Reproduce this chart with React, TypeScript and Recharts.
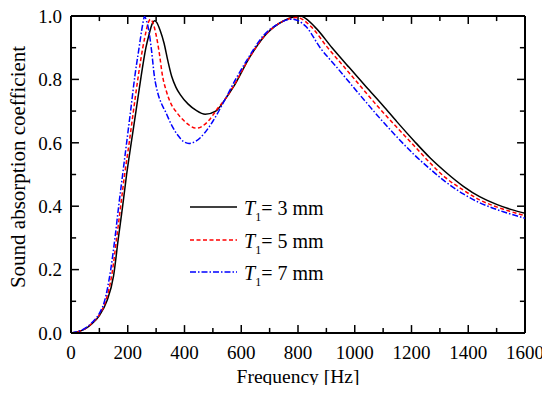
import React from 'react';
import { LineChart, Line, XAxis, YAxis, ReferenceLine } from 'recharts';

// Series: T1 = 3 mm (black, solid)
const freqT3 = [0, 25, 50, 75, 100, 126, 150, 167, 182, 196, 212, 229, 247, 264, 276, 286, 294, 302, 314, 328, 341, 355, 370, 385, 413, 440, 473, 510, 543, 573, 631, 690, 750, 808, 860, 920, 980, 1040, 1100, 1149, 1210, 1266, 1320, 1384, 1440, 1502, 1550, 1600];
const alphaT3 = [0, 0.004, 0.013, 0.03, 0.055, 0.1, 0.18, 0.3, 0.4, 0.5, 0.598, 0.7, 0.809, 0.9, 0.945, 0.975, 0.985, 0.98, 0.955, 0.914, 0.86, 0.809, 0.775, 0.752, 0.722, 0.703, 0.69, 0.7, 0.737, 0.777, 0.872, 0.945, 0.985, 1.0, 0.965, 0.9, 0.838, 0.777, 0.717, 0.666, 0.605, 0.552, 0.508, 0.462, 0.43, 0.405, 0.39, 0.378];

// Series: T1 = 5 mm (red, dashed)
const freqT5 = [0, 25, 50, 75, 100, 122, 145, 161, 175, 189, 205, 220, 237, 253, 263, 272, 280, 290, 300, 310, 323, 337, 350, 373, 400, 443, 480, 520, 543, 580, 620, 680, 740, 796, 850, 900, 960, 1017, 1080, 1149, 1210, 1266, 1320, 1384, 1440, 1502, 1550, 1600];
const alphaT5 = [0, 0.004, 0.014, 0.032, 0.058, 0.1, 0.19, 0.3, 0.4, 0.5, 0.6, 0.7, 0.81, 0.9, 0.945, 0.978, 0.99, 0.975, 0.94, 0.89, 0.809, 0.76, 0.728, 0.695, 0.668, 0.646, 0.665, 0.712, 0.737, 0.79, 0.855, 0.935, 0.98, 0.995, 0.963, 0.905, 0.842, 0.782, 0.716, 0.648, 0.59, 0.536, 0.49, 0.45, 0.42, 0.397, 0.383, 0.37];

// Series: T1 = 7 mm (blue, dash-dot)
const freqT7 = [0, 25, 50, 75, 100, 118, 140, 155, 168, 182, 196, 210, 225, 240, 252, 259, 266, 274, 284, 294, 305, 318, 332, 355, 378, 395, 416, 440, 470, 500, 543, 580, 620, 680, 730, 778, 830, 878, 935, 990, 1040, 1090, 1149, 1210, 1266, 1320, 1384, 1440, 1502, 1550, 1600];
const alphaT7 = [0, 0.005, 0.015, 0.034, 0.062, 0.1, 0.2, 0.3, 0.4, 0.5, 0.6, 0.7, 0.81, 0.9, 0.97, 0.998, 0.985, 0.955, 0.89, 0.809, 0.76, 0.725, 0.7, 0.655, 0.622, 0.605, 0.598, 0.605, 0.63, 0.668, 0.737, 0.8, 0.861, 0.94, 0.975, 0.99, 0.965, 0.9, 0.84, 0.781, 0.728, 0.676, 0.618, 0.562, 0.517, 0.477, 0.438, 0.411, 0.389, 0.375, 0.362];

const xMajorTicks = [0, 200, 400, 600, 800, 1000, 1200, 1400, 1600];
const xMinorTicks = [100, 300, 500, 700, 900, 1100, 1300, 1500];
const yMajorTicks = [0, 0.2, 0.4, 0.6, 0.8, 1.0];
const yMinorTicks = [0.1, 0.3, 0.5, 0.7, 0.9];

const legendValues = ['3 mm', '5 mm', '7 mm'];
const colors = ['#000000', '#ff0000', '#0000ff'];
const dashes = [undefined, '4 2.5', '6 2 1.5 2'];

const FONT = '"Liberation Serif", "Times New Roman", serif';

const X_MIN = 0;
const X_MAX = 1600;
const Y_MIN = 0;
const Y_MAX = 1;

const toData = (f: number[], v: number[]) => f.map((x, i) => ({ f: x, a: v[i] }));

const dataT3 = toData(freqT3, alphaT3);
const dataT5 = toData(freqT5, alphaT5);
const dataT7 = toData(freqT7, alphaT7);

const tickStyle = { fontFamily: FONT, fontSize: 19, fill: '#000' };
const axisLineStyle = { stroke: '#000', strokeWidth: 2 };

// inward tick lengths, expressed in axis units (≈8 px major, ≈5 px minor)
const xMajLen = 0.025;
const xMinLen = 0.016;
const yMajLen = 28;
const yMinLen = 18;

type Seg = [{ x: number; y: number }, { x: number; y: number }];

const tickSegments: { seg: Seg; key: string }[] = [
  ...xMajorTicks.flatMap((t) => [
    { key: `xb${t}`, seg: [{ x: t, y: Y_MIN }, { x: t, y: Y_MIN + xMajLen }] as Seg },
    { key: `xt${t}`, seg: [{ x: t, y: Y_MAX }, { x: t, y: Y_MAX - xMajLen }] as Seg },
  ]),
  ...xMinorTicks.flatMap((t) => [
    { key: `xbm${t}`, seg: [{ x: t, y: Y_MIN }, { x: t, y: Y_MIN + xMinLen }] as Seg },
    { key: `xtm${t}`, seg: [{ x: t, y: Y_MAX }, { x: t, y: Y_MAX - xMinLen }] as Seg },
  ]),
  ...yMajorTicks.flatMap((t) => [
    { key: `yl${t}`, seg: [{ x: X_MIN, y: t }, { x: X_MIN + yMajLen, y: t }] as Seg },
    { key: `yr${t}`, seg: [{ x: X_MAX, y: t }, { x: X_MAX - yMajLen, y: t }] as Seg },
  ]),
  ...yMinorTicks.flatMap((t) => [
    { key: `ylm${t}`, seg: [{ x: X_MIN, y: t }, { x: X_MIN + yMinLen, y: t }] as Seg },
    { key: `yrm${t}`, seg: [{ x: X_MAX, y: t }, { x: X_MAX - yMinLen, y: t }] as Seg },
  ]),
];

export default function App() {
  const rows = [207, 240, 272];
  return (
    <div style={{ position: 'relative', width: 550, height: 393, margin: -8, background: '#fff' }}>
      <LineChart width={550} height={393} margin={{ top: 16, right: 25, bottom: 0, left: 0 }}>
        <XAxis
          xAxisId="b"
          dataKey="f"
          type="number"
          domain={[X_MIN, X_MAX]}
          allowDataOverflow
          ticks={xMajorTicks}
          interval={0}
          height={60}
          tickSize={0}
          tickMargin={13}
          tick={tickStyle}
          axisLine={axisLineStyle}
          tickLine={false}
          label={{
            content: () => (
              <text x={298} y={383} textAnchor="middle" style={{ fontFamily: FONT, fontSize: 19.5, fill: '#000' }}>
                Frequency [Hz]
              </text>
            ),
          }}
        />
        <YAxis
          yAxisId="l"
          type="number"
          domain={[Y_MIN, Y_MAX]}
          allowDataOverflow
          ticks={yMajorTicks}
          interval={0}
          width={71}
          tickSize={0}
          tickMargin={9}
          tick={tickStyle}
          tickFormatter={(v: number) => v.toFixed(1)}
          axisLine={axisLineStyle}
          tickLine={false}
          label={{
            content: () => (
              <text
                x={25}
                y={167}
                transform="rotate(-90 25 167)"
                textAnchor="middle"
                style={{ fontFamily: FONT, fontSize: 21, fill: '#000' }}
              >
                Sound absorption coefficient
              </text>
            ),
          }}
        />

        {/* frame: top and right borders */}
        <ReferenceLine xAxisId="b" yAxisId="l" y={Y_MAX} stroke="#000" strokeWidth={2} ifOverflow="visible" />
        <ReferenceLine xAxisId="b" yAxisId="l" x={X_MAX} stroke="#000" strokeWidth={2} ifOverflow="visible" />

        {/* inward major/minor ticks on all four sides */}
        {tickSegments.map(({ key, seg }) => (
          <ReferenceLine key={key} xAxisId="b" yAxisId="l" segment={seg} stroke="#000" strokeWidth={1.5} ifOverflow="visible" />
        ))}

        <Line xAxisId="b" yAxisId="l" data={dataT3} dataKey="a" type="monotone" stroke={colors[0]} strokeWidth={1.5} dot={false} isAnimationActive={false} />
        <Line xAxisId="b" yAxisId="l" data={dataT5} dataKey="a" type="monotone" stroke={colors[1]} strokeWidth={1.5} strokeDasharray={dashes[1]} dot={false} isAnimationActive={false} />
        <Line xAxisId="b" yAxisId="l" data={dataT7} dataKey="a" type="monotone" stroke={colors[2]} strokeWidth={1.5} strokeDasharray={dashes[2]} dot={false} isAnimationActive={false} />
      </LineChart>
      <svg width={550} height={393} style={{ position: 'absolute', left: 0, top: 0, pointerEvents: 'none' }}>
        {legendValues.map((v, i) => (
          <g key={v}>
            <line x1={190} x2={237} y1={rows[i]} y2={rows[i]} stroke={colors[i]} strokeWidth={1.5} strokeDasharray={dashes[i]} />
            <text x={244} y={rows[i] + 8} style={{ fontFamily: FONT, fontSize: 20, fill: '#000' }}>
              <tspan fontStyle="italic">T</tspan>
              <tspan fontSize={12} dy={6}>1</tspan>
              <tspan dy={-6}>{`= ${v}`}</tspan>
            </text>
          </g>
        ))}
      </svg>
    </div>
  );
}
